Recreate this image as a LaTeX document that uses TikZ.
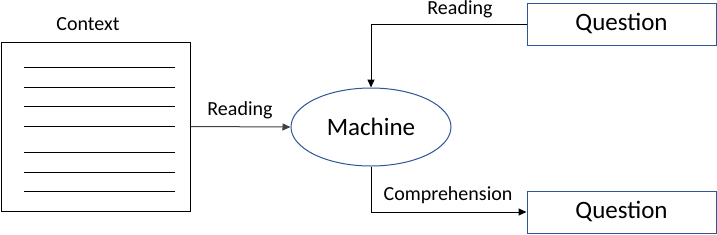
\documentclass[tikz,border=0pt]{standalone}
\usepackage{fontspec}
\setmainfont{Carlito}
\usetikzlibrary{shapes.geometric,arrows.meta}
\definecolor{boxblue}{HTML}{2F5597}
\tikzset{
  smalltxt/.style={font=\fontsize{20}{24}\selectfont, inner sep=0pt},
  bigtxt/.style={font=\fontsize{25}{30}\selectfont},
  qbox/.style={draw=boxblue, line width=1pt, minimum width=189pt, minimum height=42pt, inner sep=0pt, bigtxt},
  conn/.style={line width=1pt, -{Triangle[length=8pt,width=7pt]}},
  ruling/.style={line width=1pt}
}
\begin{document}
\begin{tikzpicture}[x=1pt,y=-1pt]
\useasboundingbox (0,0) rectangle (717,234);
% context box
\node[draw, line width=1pt, minimum width=189pt, minimum height=169pt, inner sep=0pt] (ctx) at (95.5,126.5) {};
\node[smalltxt] (ctxlabel) at (88,24) {Context};
\foreach \yy in {67,87,106,126,152,172,191}
  \draw[ruling] (24,\yy) -- (175,\yy);
% machine
\node[ellipse, draw=boxblue, line width=1pt, minimum width=160pt, minimum height=78pt, inner sep=0pt, bigtxt] (mach) at (371,127) {Machine};
% questions
\node[qbox] (q1) at (621.5,24) {Question};
\node[qbox] (q2) at (621.5,212) {Question};
% connectors
\draw[conn, black!75] (ctx.east) -- (mach.west);
\node[smalltxt] (lab1) at (240,110) {Reading};
\draw[conn] (q1.west) -| (mach.north);
\node[smalltxt] (lab2) at (460,9.5) {Reading};
\draw[conn] (mach.south) |- (q2.west);
\node[smalltxt] (lab3) at (448,195) {Comprehension};
\end{tikzpicture}
\end{document}
